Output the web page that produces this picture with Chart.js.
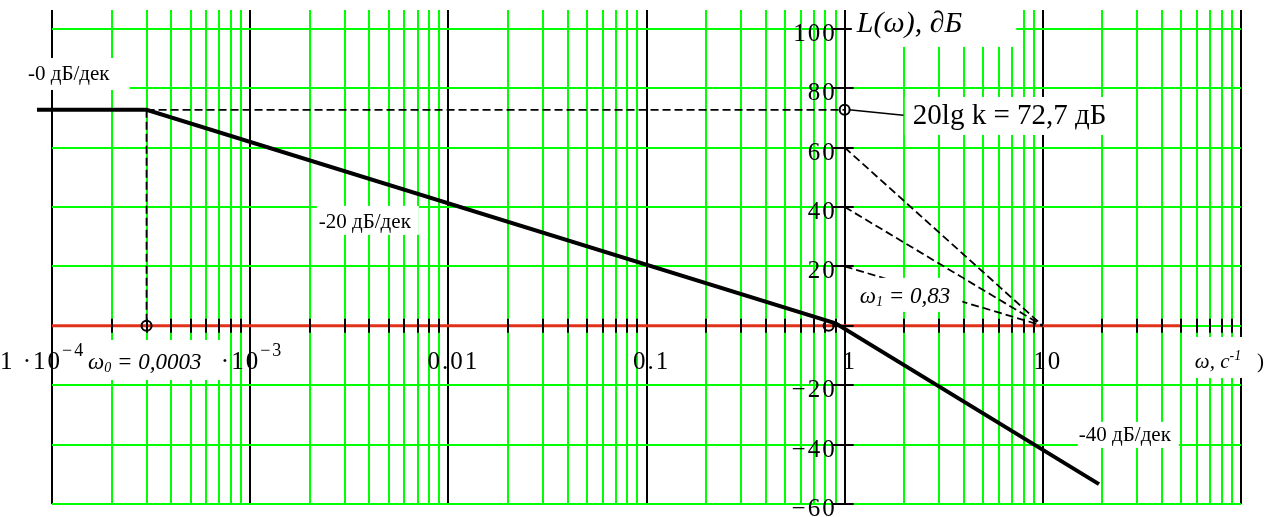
<!DOCTYPE html>
<html>
<head>
<meta charset="utf-8">
<script src="https://cdn.jsdelivr.net/npm/chart.js@4.4.1/dist/chart.umd.min.js"></script>
<style>
html,body{margin:0;padding:0;background:#fff;overflow:hidden;}
#wrap{width:1277px;height:517px;position:relative;}
</style>
</head>
<body>
<div id="wrap"><canvas id="c"></canvas></div>
<script>
// ---- axis ranges and tick labels ----
const xMin = 1e-4, xMax = 100;
const yMin = -60, yMax = 106.3;
const yTickValues = [-60, -40, -20, 0, 20, 40, 60, 80, 100];
const yTickLabels = ['−60', '−40', '−20', '', '20', '40', '60', '80', '100'];
const xMajorValues = [1e-4, 1e-3, 1e-2, 1e-1, 1, 10, 100];
const xTickText = ['1 ·10', '·10', '0.01', '0.1', '1', '10', ''];
const xTickSup = ['−4', '−3', '', '', '', '', ''];

// ---- series ----
const asymptoteX = [8.4e-5, 3e-4, 0.9, 19.2];
const asymptoteY = [72.7, 72.7, 0.8, -53.3];
const zeroLineX = [1e-4, 50];
const zeroLineY = [0, 0];
const markerX = [3e-4, 0.83, 1];
const markerY = [0, 0, 72.7];
const guideHX = [3e-4, 1], guideHY = [72.7, 72.7];
const guideVX = [3e-4, 3e-4], guideVY = [72.7, 0];
const slope60X = [1, 10], slope60Y = [60, 0];
const slope40X = [1, 10], slope40Y = [40, 0];
const slope20X = [1, 10], slope20Y = [20, 0];
const leaderX = [1.05, 1.98], leaderY = [72.7, 70.9];

// ---- text notes (anchored in data coordinates) ----
const notes = [
  {x: 7.57e-5, y: 85.1, size: 21, segs: [['n', '-0 дБ/дек']], pad: [8, 20, 15, 17]},
  {x: 2.22e-3, y: 35.3, size: 21, segs: [['n', '-20 дБ/дек']], pad: [2, 8, 15, 14]},
  {x: 15.19, y: -36.4, size: 21, segs: [['n', '-40 дБ/дек']], pad: [1, 8, 12, 14]},
  {x: 2.208, y: 71.3, size: 29, segs: [['n', '20lg k = 72,7 дБ']], pad: [8, 10, 17, 21]},
  {x: 1.152, y: 102.3, size: 30, segs: [['i', 'L(ω), ∂Б']], pad: [5, 54, 25, 25]},
  {x: 1.193, y: 10.4, size: 23, segs: [['i', 'ω'], ['i', '1', 0.62, 3], ['i', ' = 0,83']], pad: [10, 12, 17, 17]},
  {x: 1.52e-4, y: -11.85, size: 23, segs: [['i', 'ω'], ['i', '0', 0.62, 3], ['i', ' = 0,0003']], pad: [28, 24, 21, 19]},
  {x: 58.5, y: -11.85, size: 21, segs: [['i', 'ω, c'], ['i', '-1', 0.65, -8], ['n', '   )']], pad: [12, 5, 24, 17]}
];

const FONT = "'Liberation Serif','Times New Roman',serif";
const GREEN = '#00ff00';
const isMajor = v => Math.abs(Math.log10(v) - Math.round(Math.log10(v))) < 1e-6;
const xGridValues = [];
for (let i = 0; i < xMajorValues.length; i++) {
  const d = xMajorValues[i];
  xGridValues.push(d);
  if (i < xMajorValues.length - 1) for (let k = 2; k <= 9; k++) xGridValues.push(d * k);
}
const mk = (xs, ys) => xs.map((x, i) => ({x: x, y: ys[i]}));

function segFont(st, size, f) {
  return (st === 'i' ? 'italic ' : '') + Math.round(size * (f || 1)) + 'px ' + FONT;
}
function measureSegs(ctx, segs, size) {
  let w = 0;
  for (const s of segs) { ctx.font = segFont(s[0], size, s[2]); w += ctx.measureText(s[1]).width; }
  return w;
}
function drawSegs(ctx, segs, x, base, size) {
  let cx = x;
  for (const s of segs) {
    ctx.font = segFont(s[0], size, s[2]);
    ctx.fillText(s[1], cx, base + (s[3] || 0));
    cx += ctx.measureText(s[1]).width;
  }
}

const overlay = {
  id: 'overlay',
  afterDatasetsDraw(chart) {
    const ctx = chart.ctx, xs = chart.scales.x, ys = chart.scales.y;
    const x0 = xs.getPixelForValue(1), y0 = ys.getPixelForValue(0);
    ctx.save();
    // axis tick marks
    ctx.strokeStyle = '#000'; ctx.lineWidth = 2;
    ctx.beginPath();
    xGridValues.filter(v => !isMajor(v)).forEach(v => {
      const px = Math.round(xs.getPixelForValue(v));
      ctx.moveTo(px, y0 - 7); ctx.lineTo(px, y0 + 7);
    });
    yTickValues.forEach(v => {
      const py = Math.round(ys.getPixelForValue(v));
      ctx.moveTo(x0 - 12, py); ctx.lineTo(x0 + 9, py);
    });
    ctx.stroke();
    // note boxes
    ctx.textAlign = 'left'; ctx.textBaseline = 'alphabetic';
    notes.forEach(n => {
      const w = measureSegs(ctx, n.segs, n.size);
      const lx = xs.getPixelForValue(n.x), cy = ys.getPixelForValue(n.y);
      ctx.fillStyle = '#fff';
      ctx.fillRect(lx - n.pad[0], cy - n.pad[2], w + n.pad[0] + n.pad[1], n.pad[2] + n.pad[3]);
    });
    ctx.fillStyle = '#000';
    notes.forEach(n => {
      const lx = xs.getPixelForValue(n.x), cy = ys.getPixelForValue(n.y);
      drawSegs(ctx, n.segs, lx, cy + 0.34 * n.size, n.size);
    });
    // tick labels
    ctx.letterSpacing = '2px';
    ctx.font = '25px ' + FONT;
    ctx.textAlign = 'right';
    yTickValues.forEach((v, i) => {
      if (!yTickLabels[i]) return;
      ctx.fillText(yTickLabels[i], x0 - 8, ys.getPixelForValue(v) + 12);
    });
    ctx.textAlign = 'left';
    xMajorValues.forEach((v, i) => {
      const t = xTickText[i]; if (!t) return;
      const px = xs.getPixelForValue(v), base = y0 + 43;
      ctx.font = '25px ' + FONT;
      const w = ctx.measureText(t).width;
      if (xTickSup[i]) {
        ctx.fillText(t, px + 10 - w, base);
        ctx.font = '18px ' + FONT;
        ctx.fillText(xTickSup[i], px + 10, base - 13);
      } else {
        ctx.fillText(t, px + 5 - w / 2, base);
      }
    });
    ctx.restore();
  }
};

const dashed = (xs, ys) => ({data: mk(xs, ys), borderColor: '#000', borderWidth: 1.8, borderDash: [8, 4], pointRadius: 0, order: 2});

new Chart(document.getElementById('c'), {
  type: 'line',
  data: {
    datasets: [
      {data: mk(zeroLineX, zeroLineY), borderColor: '#e0301a', borderWidth: 3, pointRadius: 0, order: 3},
      dashed(guideHX, guideHY),
      dashed(guideVX, guideVY),
      dashed(slope60X, slope60Y),
      dashed(slope40X, slope40Y),
      dashed(slope20X, slope20Y),
      {data: mk(leaderX, leaderY), borderColor: '#000', borderWidth: 1.5, pointRadius: 0, order: 2},
      {data: mk(asymptoteX, asymptoteY), borderColor: '#000', borderWidth: 4, pointRadius: 0, clip: false, order: 1},
      {data: mk(markerX, markerY), showLine: false, pointRadius: 5, pointStyle: 'circle', pointBorderWidth: 2,
       pointBorderColor: '#000', pointBackgroundColor: 'rgba(0,0,0,0)', order: 0}
    ]
  },
  options: {
    responsive: true,
    maintainAspectRatio: false,
    animation: false,
    devicePixelRatio: 1,
    layout: {padding: {left: 52, right: 36, top: 10, bottom: 13}, autoPadding: false},
    elements: {line: {tension: 0}},
    plugins: {legend: {display: false}, tooltip: {enabled: false}},
    events: [],
    scales: {
      x: {
        type: 'logarithmic', min: xMin, max: xMax,
        afterBuildTicks: s => { s.ticks = xGridValues.map(v => ({value: v})); },
        ticks: {display: false},
        border: {display: false},
        grid: {drawTicks: false, lineWidth: 2, color: c => (c.tick && isMajor(c.tick.value)) ? '#000' : GREEN}
      },
      y: {
        type: 'linear', min: yMin, max: yMax,
        afterBuildTicks: s => { s.ticks = yTickValues.map(v => ({value: v})); },
        ticks: {display: false},
        border: {display: false},
        grid: {drawTicks: false, lineWidth: 2, color: GREEN}
      }
    }
  },
  plugins: [overlay]
});
</script>
</body>
</html>
